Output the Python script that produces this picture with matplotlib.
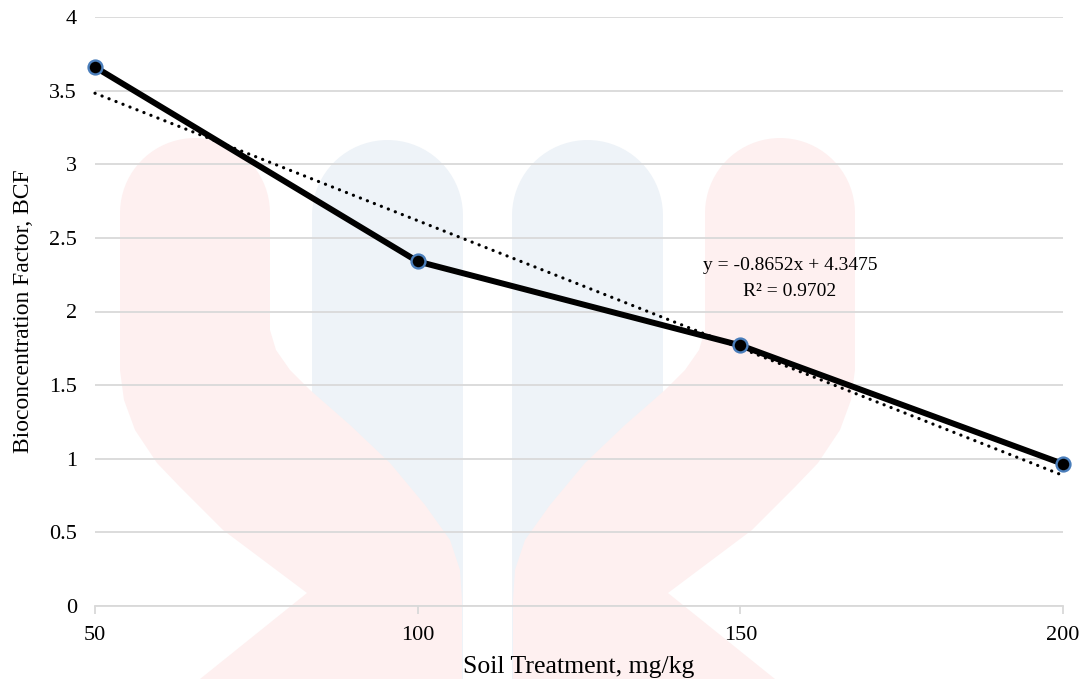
import numpy as np
import matplotlib
matplotlib.use("Agg")
import matplotlib.pyplot as plt
from matplotlib.patches import Polygon

# ---- data ----
treatments = [50, 100, 150, 200]
bcf = [3.66, 2.34, 1.77, 0.965]
trend_slope = -0.8652
trend_intercept = 4.3475
eq_text = "y = -0.8652x + 4.3475"
r2_text = "R\u00b2 = 0.9702"
yticks = [0, 0.5, 1, 1.5, 2, 2.5, 3, 3.5, 4]
ytick_labels = ["0", "0.5", "1", "1.5", "2", "2.5", "3", "3.5", "4"]

plt.rcParams['font.family'] = ['Liberation Serif', 'DejaVu Serif']

W, H = 1082, 679
fig = plt.figure(figsize=(W / 100, H / 100), dpi=100)

# ---- faint watermark (pixel coords, y from top) ----
def px(points):
    return [(x / W, 1 - y / H) for x, y in points]

def pillar(x0, x1, ytop, ybot):
    r = (x1 - x0) / 2
    cx, cy = (x0 + x1) / 2, ytop + r
    pts = [(x0, ybot), (x0, cy)]
    for a in np.linspace(np.pi, 0, 40):
        pts.append((cx + r * np.cos(a), cy - r * np.sin(a)))
    pts += [(x1, cy), (x1, ybot)]
    return pts

blue = '#eef3f8'
red = '#fef0f0'
for x0, x1 in [(312, 463), (512, 663)]:
    fig.patches.append(Polygon(px(pillar(x0, x1, 140, 679)), closed=True,
                               transform=fig.transFigure, fc=blue, ec='none', zorder=-10))

def red_shape():
    r = 75
    cx, cy = 195, 213
    pts = [(120, 213)]
    for a in np.linspace(np.pi, 0, 40):
        pts.append((cx + r * np.cos(a), cy - r * np.sin(a)))
    pts += [(270, 213), (270, 330), (276, 350), (290, 370), (310, 390), (350, 425),
            (390, 463), (425, 505), (450, 540), (460, 570), (462, 600), (462, 679),
            (200, 679), (307, 593), (223, 530), (180, 487), (157, 463), (135, 430),
            (124, 400), (120, 370)]
    return pts

left_red = red_shape()
right_red = [(975 - x, y) for x, y in left_red]
for shape in (left_red, right_red):
    fig.patches.append(Polygon(px(shape), closed=True, transform=fig.transFigure,
                               fc=red, ec='none', zorder=-10))

# ---- axes ----
ax = fig.add_axes([95 / W, 1 - 606 / H, (1063 - 95) / W, (606 - 17) / H])
ax.set_zorder(5)
ax.set_facecolor('none')
ax.set_xlim(50, 200)
ax.set_ylim(0, 4)

ax.set_yticks(yticks)
ax.set_yticklabels(ytick_labels)
ax.set_xticks(treatments)
ax.set_xticklabels([str(t) for t in treatments])
ax.grid(axis='y', color='#d9d9d9', lw=1.3, zorder=1)
ax.set_axisbelow(True)
for s in ['left', 'right', 'top']:
    ax.spines[s].set_visible(False)
ax.spines['bottom'].set_color('#d9d9d9')
ax.spines['bottom'].set_linewidth(1.3)
ax.tick_params(axis='y', length=0, labelsize=16, pad=13, colors='black')
ax.tick_params(axis='x', length=6, width=1.3, color='#d9d9d9', labelsize=16,
               pad=8.5, labelcolor='black')

# trendline
idx = np.arange(1, len(treatments) + 1)
trend = trend_slope * idx + trend_intercept
ax.plot(treatments, trend, color='black', lw=2.3, linestyle=(0, (0.05, 2.3)),
        dash_capstyle='round', zorder=3, clip_on=False)

# data line
ax.plot(treatments, bcf, color='black', lw=4.3, zorder=4, clip_on=False,
        marker='o', markersize=10, markerfacecolor='black',
        markeredgecolor='#4a7ebb', markeredgewidth=1.7)

fig.text(790 / W, 1 - 266 / H, eq_text, ha='center', va='center', fontsize=14)
fig.text(790 / W, 1 - 292 / H, r2_text, ha='center', va='center', fontsize=14)

ax.set_xlabel("Soil Treatment, mg/kg", fontsize=18.5, labelpad=7.5)
ax.set_ylabel("Bioconcentration Factor, BCF", fontsize=17, labelpad=11)

fig.savefig("out.png", dpi=100)
